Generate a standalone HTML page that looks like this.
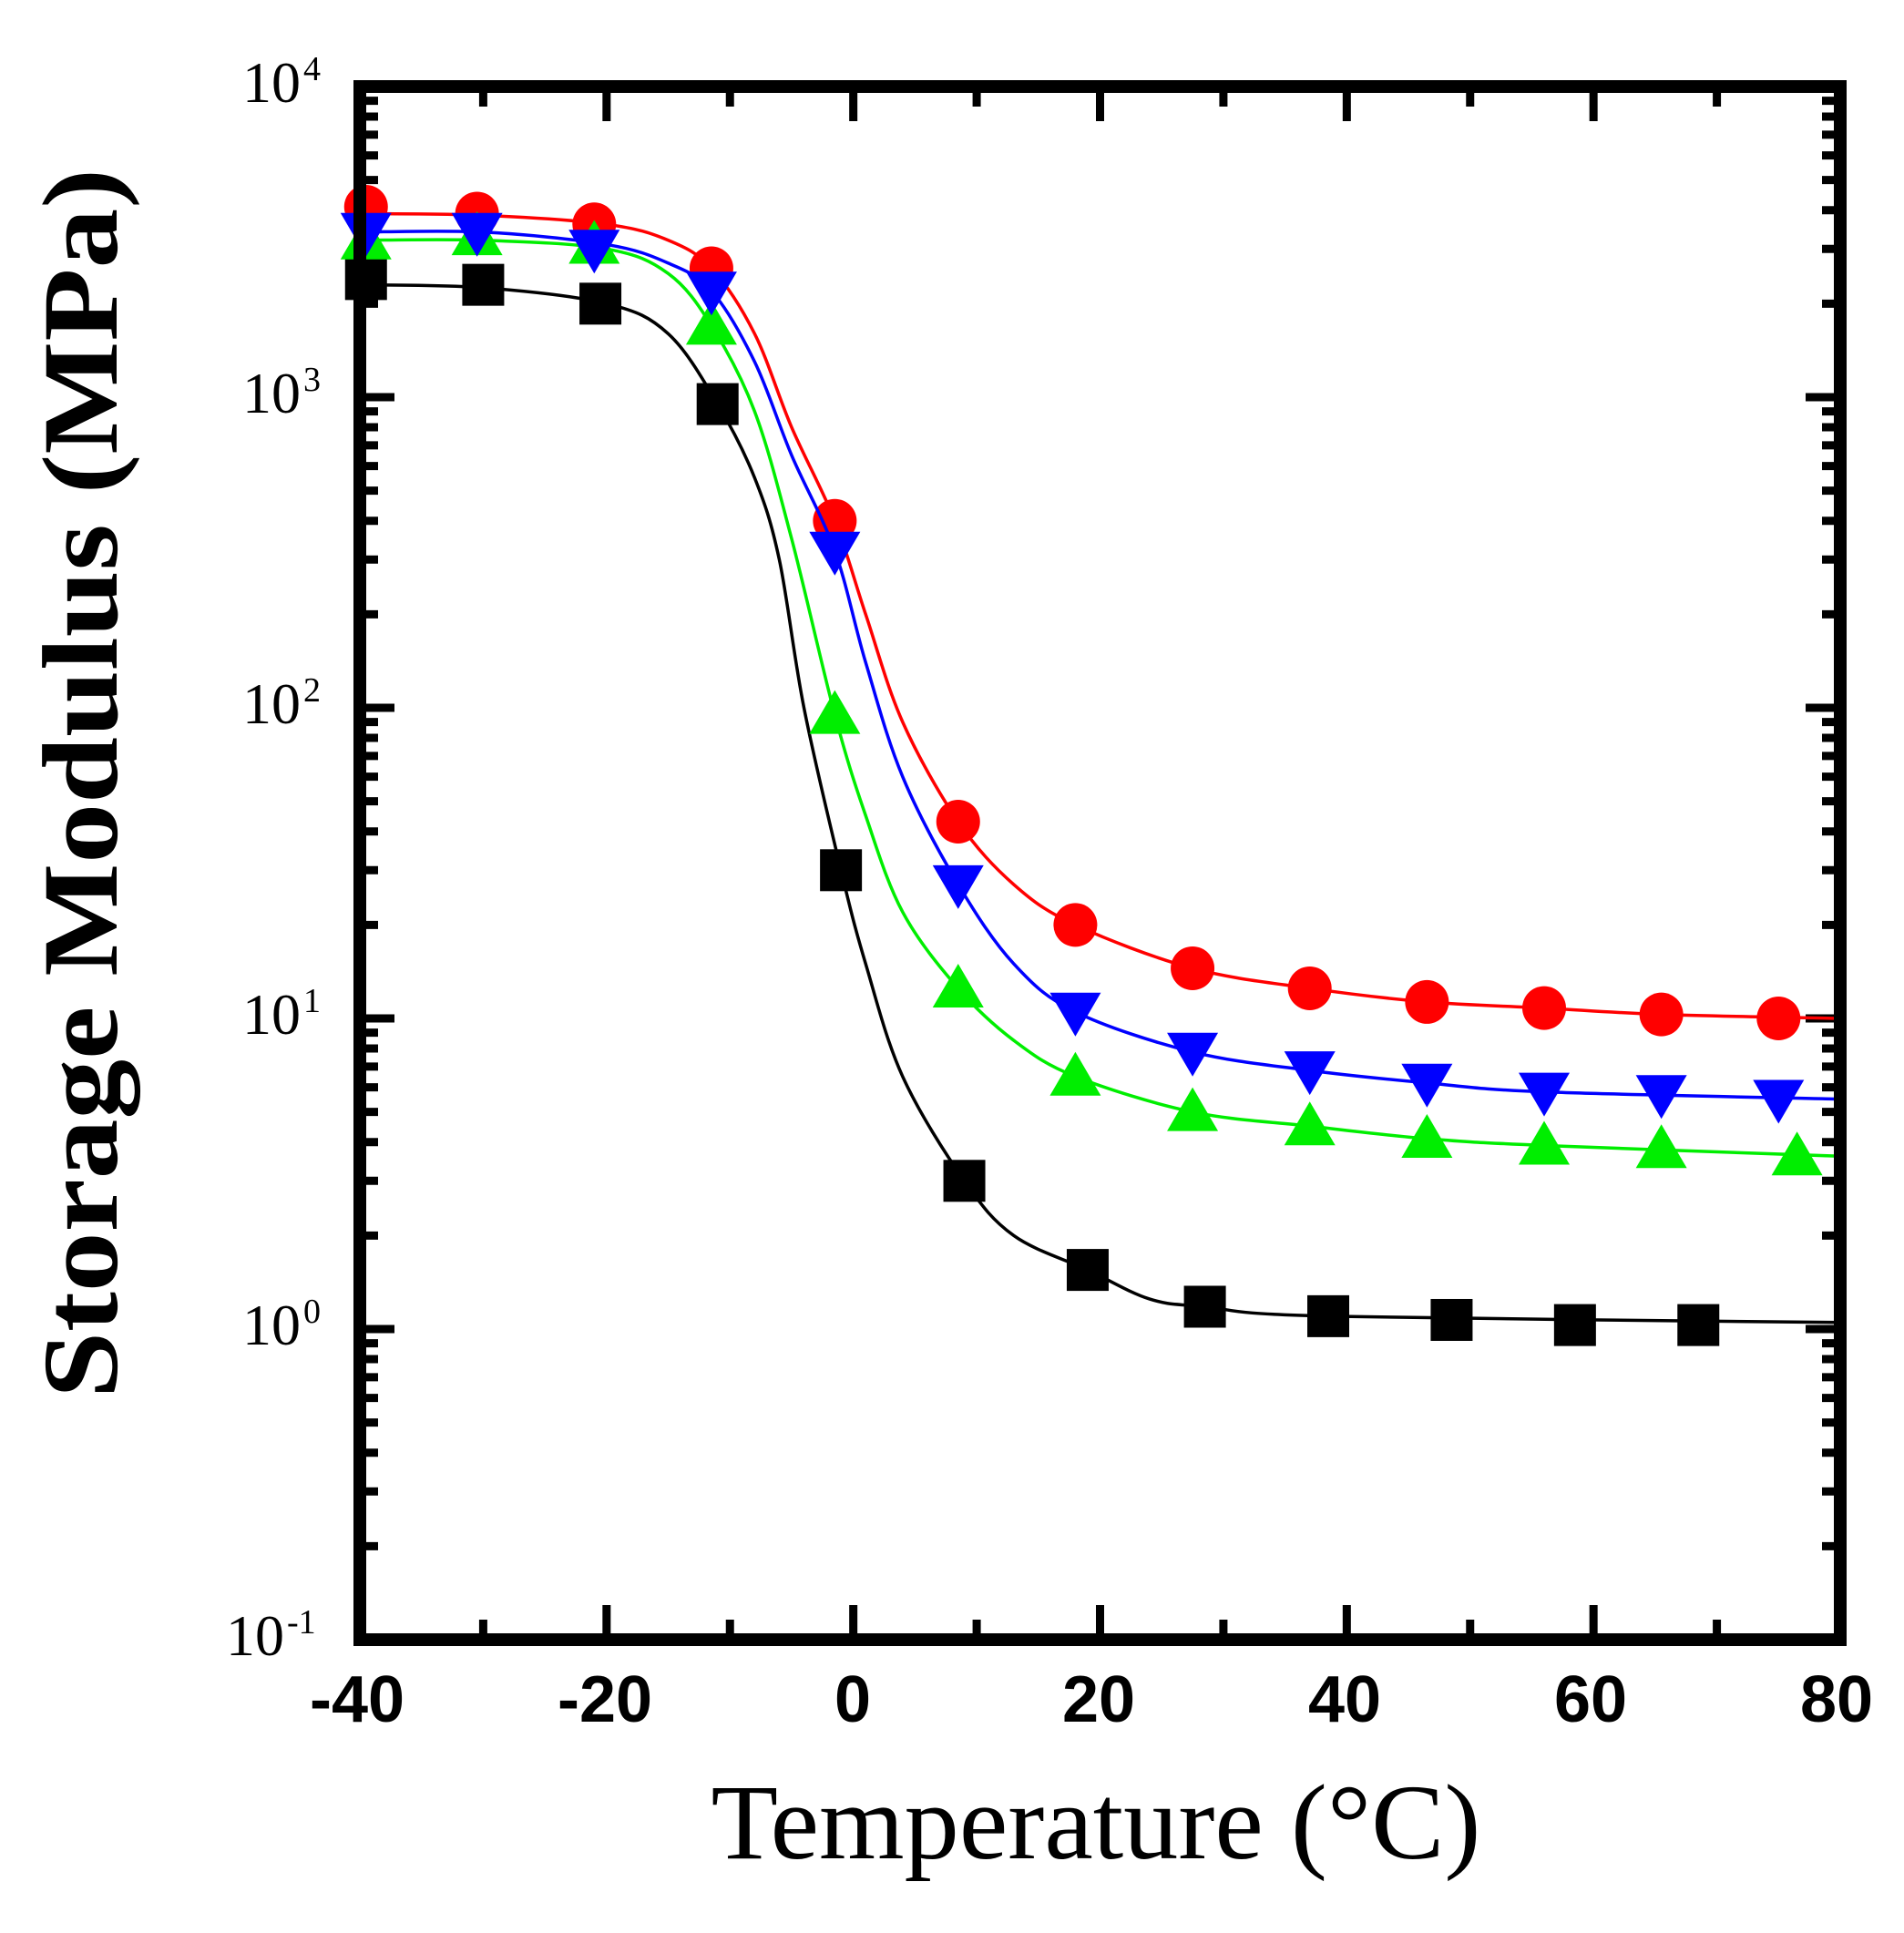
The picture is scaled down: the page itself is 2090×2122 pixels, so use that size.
<!DOCTYPE html>
<html><head><meta charset="utf-8"><style>
html,body{margin:0;padding:0;background:#fff;}
svg{display:block;}
</style></head><body>
<svg id="s" width="2090" height="2122" viewBox="0 0 2090 2122" xmlns="http://www.w3.org/2000/svg">
<rect width="2090" height="2122" fill="#fff"/>
<g id="ticks" stroke="#000" fill="none"></g>
<g id="data"></g>
<rect x="395" y="95" width="1625" height="1705" fill="none" stroke="#000" stroke-width="14"/>
<g id="labels" font-family="Liberation Sans, Arial, sans-serif" font-weight="bold" font-size="72" text-anchor="middle" fill="#000">
<text x="392" y="1890">-40</text>
<text x="664" y="1890">-20</text>
<text x="936" y="1890">0</text>
<text x="1206" y="1890">20</text>
<text x="1476" y="1890">40</text>
<text x="1746" y="1890">60</text>
<text x="2016" y="1890">80</text>
</g>
<g font-family="Liberation Serif, serif" fill="#000" font-size="64" text-anchor="end">
<text x="330" y="112">10</text><text x="333" y="88" font-size="38" text-anchor="start">4</text>
<text x="330" y="453">10</text><text x="333" y="429" font-size="38" text-anchor="start">3</text>
<text x="330" y="794">10</text><text x="333" y="770" font-size="38" text-anchor="start">2</text>
<text x="330" y="1135">10</text><text x="333" y="1111" font-size="38" text-anchor="start">1</text>
<text x="330" y="1476">10</text><text x="333" y="1452" font-size="38" text-anchor="start">0</text>
<text x="312" y="1817">10</text><text x="315" y="1793" font-size="38" text-anchor="start">-1</text>
</g>
<text x="1203" y="2040" font-family="Liberation Serif, serif" font-size="118" text-anchor="middle" textLength="845" lengthAdjust="spacingAndGlyphs">Temperature (°C)</text>
<text transform="translate(128,860) rotate(-90)" font-family="Liberation Serif, serif" font-weight="bold" font-size="118" text-anchor="middle" textLength="1350" lengthAdjust="spacingAndGlyphs">Storage Modulus (MPa)</text>
</svg>
<script>
var NS="http://www.w3.org/2000/svg";
function X(t){return 395+(t+40)*1625/120;}
function Y(v){return 1800-(Math.log10(v)+1)*341;}
var tg=document.getElementById('ticks');
function line(x1,y1,x2,y2,w){var l=document.createElementNS(NS,'line');l.setAttribute('x1',x1);l.setAttribute('y1',y1);l.setAttribute('x2',x2);l.setAttribute('y2',y2);l.setAttribute('stroke-width',w);tg.appendChild(l);}
for(var t=-40;t<=80;t+=10){var maj=(t%20===0);var L=maj?38:22;var x=X(t);line(x,1800,x,1800-L,9);line(x,95,x,95+L,9);}
for(var d=-1;d<4;d++){for(var m=1;m<10;m++){var y=Y(m*Math.pow(10,d));var L=(m==1)?38:20;line(395,y,395+L,y,9);line(2020,y,2020-L,y,9);}}
var series=[
{c:'#000',mk:'sq',curve:[[-40,2300],[-30,2250],[-20,2000],[-15,1600],[-11,950],[-8,550],[-6,300],[-4,100],[-1,30],[1,15],[4,6.5],[9,3],[13,2],[19,1.55],[24,1.25],[28.5,1.18],[38.5,1.1],[80,1.05]],
pts:[[-39.5,2400],[-30,2300],[-20.5,2000],[-11,950],[-1,30],[9,3],[19,1.55],[28.5,1.18],[38.5,1.1],[48.5,1.07],[58.5,1.03],[68.5,1.03]]},
{c:'#ff0000',mk:'ci',curve:[[-40,3900],[-30,3850],[-20,3600],[-15,3200],[-11.5,2600],[-8,1600],[-5,800],[-1.5,400],[1,200],[4,90],[8.5,43],[13,27],[18,20],[27.5,14.5],[37,12.5],[46.5,11.3],[56,10.8],[65.5,10.3],[80,10]],
pts:[[-39.5,4100],[-30.5,3900],[-21,3600],[-11.5,2600],[-1.5,400],[8.5,43],[18,20],[27.5,14.5],[37,12.5],[46.5,11.3],[56,10.8],[65.5,10.3],[75,10]]},
{c:'#00ee00',mk:'up',curve:[[-40,3200],[-30,3200],[-20,3000],[-15,2500],[-11.5,1700],[-8,900],[-5,350],[-1.5,95],[1,45],[4,22],[8.5,12.5],[13,8.5],[18,6.5],[27.5,5],[37,4.5],[46.5,4.1],[56,3.9],[80,3.6]],
pts:[[-39.5,3200],[-30.5,3300],[-21,3100],[-11.5,1700],[-1.5,95],[8.5,12.5],[18,6.5],[27.5,5],[37,4.5],[46.5,4.1],[56,3.9],[65.5,3.8],[76.5,3.6]]},
{c:'#0000ff',mk:'dn',curve:[[-40,3400],[-30,3400],[-20,3100],[-15,2700],[-11.5,2200],[-8,1300],[-5,650],[-1.5,320],[1,140],[4,60],[8.5,27],[13,15],[18,10.5],[27.5,7.8],[37,6.8],[46.5,6.2],[56,5.8],[80,5.5]],
pts:[[-39.5,3400],[-30.5,3400],[-21,3000],[-11.5,2200],[-1.5,320],[8.5,27],[18,10.5],[27.5,7.8],[37,6.8],[46.5,6.2],[56,5.8],[65.5,5.7],[75,5.5]]}
];
var dg=document.getElementById('data');
series.forEach(function(s){
 var P=s.curve.map(function(p){return [X(p[0]),Y(p[1])];});
 var d='M'+P[0][0]+','+P[0][1];
 for(var i=0;i<P.length-1;i++){var p0=P[Math.max(0,i-1)],p1=P[i],p2=P[i+1],p3=P[Math.min(P.length-1,i+2)];
  var c1=[p1[0]+(p2[0]-p0[0])/6,p1[1]+(p2[1]-p0[1])/6],c2=[p2[0]-(p3[0]-p1[0])/6,p2[1]-(p3[1]-p1[1])/6];
  d+=' C'+c1[0]+','+c1[1]+' '+c2[0]+','+c2[1]+' '+p2[0]+','+p2[1];}
 var pa=document.createElementNS(NS,'path');pa.setAttribute('d',d);pa.setAttribute('fill','none');pa.setAttribute('stroke',s.c);pa.setAttribute('stroke-width','3.5');dg.appendChild(pa);
 s.pts.forEach(function(p){var x=X(p[0]),y=Y(p[1]),e;
  if(s.mk=='sq'){e=document.createElementNS(NS,'rect');e.setAttribute('x',x-23);e.setAttribute('y',y-23);e.setAttribute('width',46);e.setAttribute('height',46);}
  else if(s.mk=='ci'){e=document.createElementNS(NS,'circle');e.setAttribute('cx',x);e.setAttribute('cy',y);e.setAttribute('r',24);}
  else if(s.mk=='up'){e=document.createElementNS(NS,'polygon');e.setAttribute('points',(x-28)+','+(y+21)+' '+(x+28)+','+(y+21)+' '+x+','+(y-27));}
  else {e=document.createElementNS(NS,'polygon');e.setAttribute('points',(x-28)+','+(y-21)+' '+(x+28)+','+(y-21)+' '+x+','+(y+27));}
  e.setAttribute('fill',s.c);dg.appendChild(e);});
});
</script>
</body></html>
